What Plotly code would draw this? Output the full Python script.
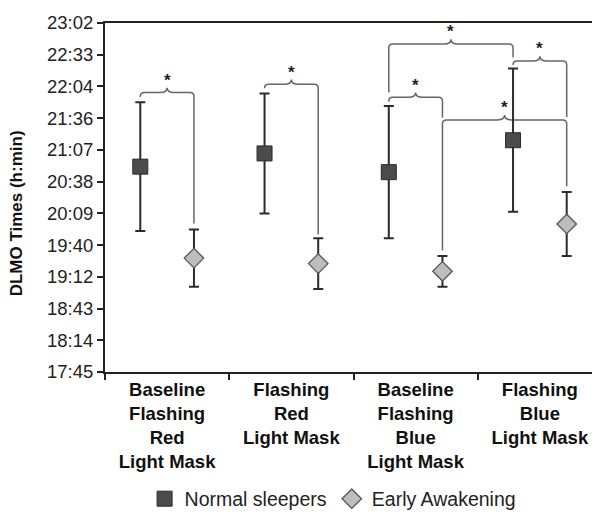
import plotly.graph_objects as go

# ---------------- data ----------------
categories = [
    "Baseline<br>Flashing<br>Red<br>Light Mask",
    "Flashing<br>Red<br>Light Mask",
    "Baseline<br>Flashing<br>Blue<br>Light Mask",
    "Flashing<br>Blue<br>Light Mask",
]
# DLMO times, minutes after midnight
normal_mean = [1252, 1264, 1247, 1276]
normal_err = [58.5, 54.5, 60, 65]
early_mean = [1169, 1164, 1157, 1200]
early_err = [26, 23, 14, 29]

y_tick_labels = ["17:45", "18:14", "18:43", "19:12", "19:40", "20:09",
                 "20:38", "21:07", "21:36", "22:04", "22:33", "23:02"]
y_tick_minutes = [1065.6, 1094.4, 1123.2, 1152.0, 1180.8, 1209.6,
                  1238.4, 1267.2, 1296.0, 1324.8, 1353.6, 1382.4]

# significance brackets: (cat_a, side_a, cat_b, side_b, level, end_a, end_b)
# side: -1 normal sleepers, +1 early awakening ; values in minutes
brackets = [
    (0, -1, 0, +1, 1319.3, 1315.3, 1200.5),
    (1, -1, 1, +1, 1326.7, 1323.2, 1190.5),
    (2, -1, 2, +1, 1314.9, 1311.0, 1296.5),
    (2, +1, 3, +1, 1294.4, 1176.0, 1234.3),
    (2, -1, 3, -1, 1363.3, 1319.3, 1351.0),
    (3, -1, 3, +1, 1347.8, 1344.5, 1297.0),
]

# ---------------- geometry ----------------
W, H = 600, 515
ML, MR, MT, MB = 97, 4, 10, 145
OFF = 0.216
X0, X1 = -0.5, 3.5
Y0, Y1 = y_tick_minutes[0], y_tick_minutes[-1]
PX_X = (W - ML - MR) / (X1 - X0)
PX_Y = (H - MT - MB) / (Y1 - Y0)
FONT = "Liberation Sans, Arial"

idx = list(range(len(categories)))
x_normal = [i - OFF for i in idx]
x_early = [i + OFF for i in idx]

fig = go.Figure()
fig.add_trace(go.Scatter(
    x=x_normal, y=normal_mean, mode="markers", name="Normal sleepers",
    marker=dict(symbol="square", size=15, color="#4b4b4b",
                line=dict(color="#2a2a2a", width=1)),
    error_y=dict(type="data", array=normal_err, color="#2b2b2b",
                 thickness=2, width=5),
))
fig.add_trace(go.Scatter(
    x=x_early, y=early_mean, mode="markers", name="Early Awakening",
    marker=dict(symbol="diamond", size=15, color="#bdbdbd",
                line=dict(color="#555555", width=1.3)),
    error_y=dict(type="data", array=early_err, color="#2b2b2b",
                 thickness=2, width=5),
))

rx, ry = 4 / PX_X, 4 / PX_Y
wx, py = 7 / PX_X, 5 / PX_Y
for ca, sa, cb, sb, lev, ea, eb in brackets:
    xa = ca + sa * OFF
    xb = cb + sb * OFF
    xm = (xa + xb) / 2
    path = (f"M {xa},{ea} L {xa},{lev - ry} Q {xa},{lev} {xa + rx},{lev} "
            f"L {xm - wx},{lev} Q {xm},{lev} {xm},{lev + py} "
            f"Q {xm},{lev} {xm + wx},{lev} L {xb - rx},{lev} "
            f"Q {xb},{lev} {xb},{lev - ry} L {xb},{eb}")
    fig.add_shape(type="path", path=path, xref="x", yref="y", layer="below",
                  line=dict(color="#666666", width=1.5))
    fig.add_annotation(x=xm, y=lev + py, xref="x", yref="y", text="<b>*</b>",
                       showarrow=False, yanchor="bottom", yshift=-4,
                       font=dict(size=17, color="#222222", family=FONT))

fig.add_annotation(text="<b>DLMO Times (h:min)</b>", xref="paper", yref="paper",
                   x=(8 - ML) / (W - ML - MR), y=(H - MB - 206) / (H - MT - MB),
                   xanchor="center", yanchor="middle",
                   textangle=-90, showarrow=False,
                   font=dict(size=17, color="#111111", family=FONT))

fig.update_layout(
    width=W, height=H,
    margin=dict(l=ML, r=MR, t=MT, b=MB),
    paper_bgcolor="white", plot_bgcolor="white",
    font=dict(family=FONT, color="#222222"),
    showlegend=True,
    legend=dict(orientation="h", x=(326 - ML) / (W - ML - MR), xanchor="center",
                y=(H - MB - 501) / (H - MT - MB), yanchor="middle",
                font=dict(size=19.5, color="#222222")),
    xaxis=dict(range=[X0, X1], tickmode="array", tickvals=idx,
               ticktext=[f"<b>{c}</b>" for c in categories],
               ticks="", showgrid=False, zeroline=False,
               showline=True, linecolor="#222222", linewidth=2, mirror=True,
               tickfont=dict(size=18.5, color="#111111"),
               minor=dict(tickmode="array", tickvals=[-0.5, 0.5, 1.5, 2.5, 3.5],
                          ticks="outside", ticklen=6, tickwidth=2,
                          tickcolor="#222222", showgrid=False)),
    yaxis=dict(range=[Y0, Y1], tickmode="array", tickvals=y_tick_minutes,
               ticktext=y_tick_labels, ticks="outside", ticklen=6, tickwidth=2,
               tickcolor="#222222", showgrid=False, zeroline=False,
               ticklabeloverflow="allow",
               showline=True, linecolor="#222222", linewidth=2, mirror=True,
               tickfont=dict(size=18.5, color="#222222")),
)

fig.write_html("out.html")
